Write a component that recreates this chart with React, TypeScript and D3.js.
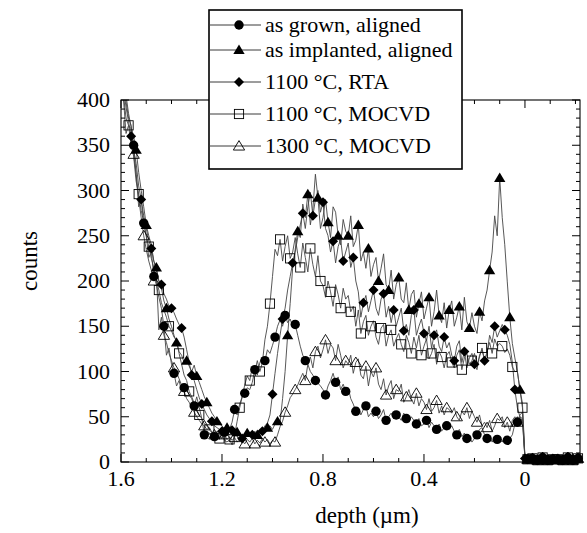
import React from "react";
import * as d3 from "d3";

// depth grid: 1.6 µm down in 0.01 µm steps (index i -> 1.6 - 0.01*i)
const DEPTH_START = 1.6;
const DEPTH_STEP = 0.01;

const AS_GROWN = [
  445, 420, 398, 380, 372, 350, 318, 282, 290, 264,
  250, 226, 232, 205, 196, 182, 170, 150, 118, 126,
  108, 98, 84, 90, 78, 82, 80, 74, 70, 62,
  72, 60, 48, 30, 34, 32, 30, 28, 34, 30,
  26, 33, 38, 36, 44, 58, 52, 64, 72, 76,
  82, 80, 88, 102, 96, 110, 116, 112, 124, 120,
  129, 138, 150, 157, 150, 162, 154, 158, 150, 152,
  140, 128, 118, 112, 108, 100, 96, 90, 87, 84,
  80, 74, 84, 90, 98, 88, 94, 80, 86, 78,
  82, 70, 64, 56, 60, 52, 58, 62, 50, 54,
  50, 56, 48, 52, 58, 46, 50, 54, 48, 52,
  50, 46, 54, 48, 44, 50, 46, 42, 48, 40,
  42, 46, 38, 44, 40, 36, 42, 34, 38, 40,
  36, 40, 34, 30, 36, 28, 32, 26, 28, 22,
  26, 30, 36, 38, 30, 26, 28, 22, 27, 25,
  25, 22, 28, 24, 26, 30, 42, 44, 50, 48,
  4,
];

const AS_IMPLANTED = [
  450, 430, 405, 385, 370, 360, 345, 320, 300, 282,
  262, 250, 240, 222, 215, 200, 192, 178, 170, 158,
  150, 140, 132, 122, 118, 110, 112, 106, 100, 107,
  95, 88, 80, 72, 66, 60, 54, 50, 45, 42,
  40, 36, 38, 34, 32, 30, 33, 31, 28, 30,
  32, 30, 28, 34, 30, 32, 36, 34, 38, 40,
  36, 42, 45, 44, 70, 100, 140, 175, 215, 235,
  255, 248, 285, 270, 296, 262, 280, 318, 292, 258,
  270, 290, 265, 248, 282, 276, 250, 240, 268, 255,
  250, 272, 238, 245, 262, 222, 232, 214, 236, 205,
  218, 226, 200, 214, 230, 196, 190, 212, 180, 196,
  204, 180, 176, 198, 168, 185, 190, 160, 175, 188,
  158, 170, 182, 150, 166, 190, 162, 154, 176, 148,
  168, 178, 150, 160, 172, 146, 182, 155, 148, 165,
  150, 142, 166, 156, 178, 190, 212, 232, 272, 250,
  314, 270, 240, 199, 160, 131, 115, 100, 80, 65,
  5,
];

const RTA_1100 = [
  430, 412, 392, 376, 360, 345, 330, 305, 290, 272,
  258, 245, 236, 222, 212, 200, 196, 186, 180, 172,
  170, 165, 158, 152, 148, 138, 124, 110, 96, 90,
  80, 71, 64, 58, 52, 48, 45, 40, 38, 36,
  34, 38, 32, 30, 35, 28, 32, 30, 26, 31,
  28, 33, 30, 27, 32, 36, 34, 40, 43, 52,
  75, 98, 120, 140, 158, 170, 190, 205, 220, 232,
  248, 262, 275, 258, 282, 298, 272, 290, 300, 276,
  287, 258, 250, 232, 244, 220, 238, 246, 222, 232,
  242, 215, 226, 200, 188, 160, 176, 184, 166, 178,
  190, 170, 162, 180, 186, 160, 172, 154, 168, 150,
  160, 170, 145, 152, 140, 162, 168, 140, 150, 158,
  142, 134, 150, 126, 140, 146, 128, 122, 138, 126,
  132, 118, 112, 128, 134, 110, 122, 104, 115, 120,
  108, 102, 118, 124, 112, 120, 140, 132, 150, 138,
  145, 152, 146, 140, 130, 110, 80, 60, 50, 45,
  4,
];

const MOCVD_1100 = [
  440, 400, 363, 372, 350, 338, 310, 296, 278, 265,
  250, 238, 225, 215, 200, 190, 176, 168, 160, 150,
  145, 138, 135, 120, 108, 96, 90, 78, 72, 65,
  58, 52, 48, 42, 40, 36, 32, 30, 28, 26,
  30, 24, 22, 25, 19, 30, 45, 60, 72, 85,
  95, 90, 105, 100, 112, 100, 110, 135, 150, 175,
  205, 235, 228, 246, 222, 238, 250, 225, 232, 248,
  230, 215, 242, 226, 210, 236, 218, 205, 228, 200,
  195, 182, 200, 188, 172, 196, 185, 170, 192, 180,
  184, 166, 172, 150, 168, 142, 155, 162, 140, 150,
  156, 138, 130, 148, 152, 128, 140, 146, 128, 136,
  142, 130, 122, 140, 132, 120, 138, 126, 140, 118,
  128, 136, 114, 120, 130, 108, 122, 116, 104, 118,
  122, 110, 104, 118, 124, 102, 115, 120, 108, 112,
  120, 108, 116, 126, 112, 122, 132, 120, 136, 128,
  131, 128, 121, 125, 118, 105, 100, 100, 80, 60,
  4,
];

const MOCVD_1300 = [
  435, 405, 380, 372, 368, 340, 318, 292, 270, 250,
  235, 222, 212, 200, 209, 146, 160, 140, 132, 120,
  112, 104, 99, 92, 85, 78, 70, 66, 60, 55,
  50, 46, 42, 40, 36, 38, 33, 30, 32, 28,
  26, 30, 25, 28, 24, 27, 22, 26, 24, 20,
  25, 22, 26, 20, 24, 21, 26, 22, 25, 20,
  24, 22, 30, 39, 45, 55, 62, 71, 75, 80,
  85, 92, 98, 90, 108, 116, 104, 122, 128, 115,
  124, 135, 120, 130, 126, 112, 130, 118, 104, 112,
  108, 118, 98, 110, 114, 96, 92, 106, 84, 100,
  94, 104, 86, 80, 92, 74, 84, 90, 70, 80,
  78, 86, 66, 72, 80, 70, 64, 76, 62, 70,
  66, 58, 70, 56, 60, 68, 54, 62, 52, 60,
  58, 54, 60, 50, 46, 56, 52, 60, 48, 56,
  50, 44, 52, 40, 44, 38, 46, 34, 40, 48,
  46, 50, 38, 44, 34, 46, 50, 44, 52, 55,
  4,
];

// counts beyond the surface (negative depth)
const TAIL = [3, 2, 4, 3, 2, 3, 5, 3, 2, 4, 3, 2, 3, 4, 2, 3, 5, 3, 2, 3, 4, 2];

const SERIES_NAMES = [
  "as grown, aligned",
  "as implanted, aligned",
  "1100 \u00B0C, RTA",
  "1100 \u00B0C, MOCVD",
  "1300 \u00B0C, MOCVD",
];
const SERIES_VALUES = [AS_GROWN, AS_IMPLANTED, RTA_1100, MOCVD_1100, MOCVD_1300];
const SERIES_MARKERS = ["circle", "triUp", "diamond", "square", "triOpen"];
const MARKER_OFFSETS = [1, 2, 0, 3, 1];

const Y_TICKS = [0, 50, 100, 150, 200, 250, 300, 350, 400];
const X_TICKS = [1.6, 1.2, 0.8, 0.4, 0];

const W = 587;
const H = 533;
const L = 121;
const R = 580;
const T = 100;
const B = 462;
const FONT = "Liberation Serif, Times New Roman, DejaVu Serif, serif";

function Marker({ type, x, y }: { type: string; x: number; y: number }) {
  if (type === "circle") return <circle cx={x} cy={y} r={4.7} fill="#000" />;
  if (type === "triUp" || type === "triOpen") {
    const s = 5.4;
    const p = `M${x},${y - s}L${x + s * 1.05},${y + s * 0.75}L${x - s * 1.05},${y + s * 0.75}Z`;
    return type === "triUp" ? (
      <path d={p} fill="#000" />
    ) : (
      <path d={p} fill="none" stroke="#000" strokeWidth={0.9} />
    );
  }
  if (type === "diamond") {
    const s = 5;
    return <path d={`M${x},${y - s}L${x + s},${y}L${x},${y + s}L${x - s},${y}Z`} fill="#000" />;
  }
  return <rect x={x - 4.6} y={y - 4.6} width={9.2} height={9.2} fill="none" stroke="#000" strokeWidth={0.9} />;
}

const textStyle = { fontFamily: FONT };

export default function App() {
  const x = d3.scaleLinear().domain([1.6, -0.218]).range([L, R]);
  const y = d3.scaleLinear().domain([0, 400]).range([B, T]);

  const series = SERIES_VALUES.map((vals, si) => {
    const pts = vals.map((v, i) => ({ d: DEPTH_START - DEPTH_STEP * i, v, i }));
    const tailPts = TAIL.map((v, j) => ({ d: -DEPTH_STEP * (j + 1), v, i: vals.length + j }));
    return { name: SERIES_NAMES[si], marker: SERIES_MARKERS[si], off: MARKER_OFFSETS[si], pts: pts.concat(tailPts), n: vals.length };
  });

  const line = d3
    .line<{ d: number; v: number }>()
    .x((p) => x(p.d))
    .y((p) => y(p.v));

  const yMinor = d3.range(0, 401, 10);
  const xMinor = d3.range(16, -3, -1).map((k) => k / 10);

  const legendRows = [25, 50, 82, 114, 146];

  return (
    <svg
      width={W}
      height={H}
      style={{ position: "absolute", left: 0, top: 0, background: "#fff", fontFamily: FONT }}
    >
      <defs>
        <clipPath id="plotClip">
          <rect x={L} y={T} width={R - L} height={B - T} />
        </clipPath>
      </defs>
      <rect x={0} y={0} width={W} height={H} fill="#fff" />

      {/* data */}
      <g clipPath="url(#plotClip)">
        {series.map((s) => (
          <path key={s.name + "l"} d={line(s.pts) || ""} fill="none" stroke="#454545" strokeWidth={0.9} />
        ))}
      </g>
      <g>
        {series.map((s) =>
          s.pts
            .filter((p) => (p.i < s.n ? p.i % 4 === s.off && p.v <= 385 : (p.i - s.n) % 2 === 0))
            .map((p) => <Marker key={s.name + p.i} type={s.marker} x={x(p.d)} y={y(p.v)} />)
        )}
      </g>

      {/* frame */}
      <rect x={L} y={T} width={R - L} height={B - T} fill="none" stroke="#000" strokeWidth={1.1} />

      {/* y ticks */}
      {yMinor.map((v) => {
        const major = v % 50 === 0;
        const len = major ? 8 : 4;
        return (
          <g key={"yt" + v}>
            <line x1={L} x2={L + len} y1={y(v)} y2={y(v)} stroke="#000" strokeWidth={1} />
            <line x1={R} x2={R - len} y1={y(v)} y2={y(v)} stroke="#000" strokeWidth={1} />
          </g>
        );
      })}
      {Y_TICKS.map((v) => (
        <text key={"yl" + v} x={L - 11} y={y(v) + 7} textAnchor="end" fontSize={22} style={textStyle}>
          {v}
        </text>
      ))}

      {/* x ticks */}
      {xMinor.map((d) => {
        const major = Math.abs((d * 10) % 4) < 1e-6;
        const len = major ? 8 : 4;
        return (
          <g key={"xt" + d}>
            <line x1={x(d)} x2={x(d)} y1={B} y2={B - len} stroke="#000" strokeWidth={1} />
            <line x1={x(d)} x2={x(d)} y1={T} y2={T + len} stroke="#000" strokeWidth={1} />
          </g>
        );
      })}
      {X_TICKS.map((d) => (
        <text key={"xl" + d} x={x(d)} y={486} textAnchor="middle" fontSize={22} style={textStyle}>
          {d3.format("")(d)}
        </text>
      ))}

      {/* axis titles */}
      <text x={367} y={523} textAnchor="middle" fontSize={23} style={textStyle}>
        depth ({"\u00B5"}m)
      </text>
      <text transform="translate(37,261) rotate(-90)" textAnchor="middle" fontSize={23} style={textStyle}>
        counts
      </text>

      {/* legend */}
      <rect x={209} y={10} width={253} height={159} fill="#fff" stroke="#000" strokeWidth={1.6} />
      {series.map((s, k) => (
        <g key={"lg" + k}>
          <line x1={209} x2={261} y1={legendRows[k]} y2={legendRows[k]} stroke="#3a3a3a" strokeWidth={1} />
          <Marker type={s.marker} x={239} y={legendRows[k]} />
          <text x={265} y={legendRows[k] + 7} fontSize={22} style={textStyle}>
            {s.name}
          </text>
        </g>
      ))}
    </svg>
  );
}
